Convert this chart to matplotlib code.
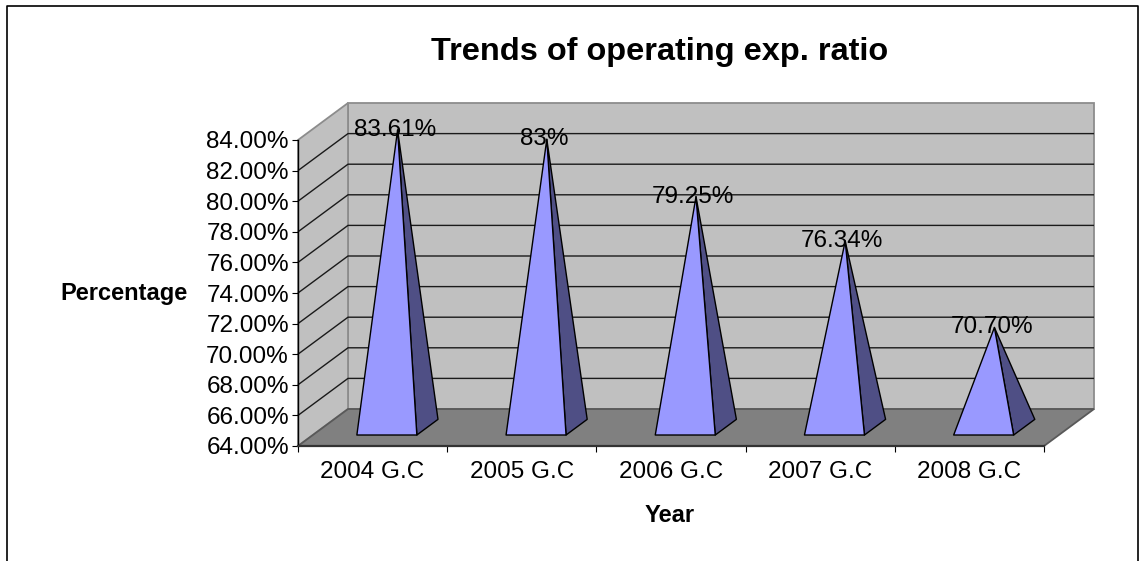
import matplotlib
matplotlib.use('Agg')
import matplotlib.pyplot as plt
from matplotlib.patches import Polygon

plt.rcParams['font.family'] = ['Liberation Sans', 'DejaVu Sans']

annees = ['2004 G.C', '2005 G.C', '2006 G.C', '2007 G.C', '2008 G.C']
ratios = [83.61, 83.0, 79.25, 76.34, 70.70]
etiquettes = ['83.61%', '83%', '79.25%', '76.34%', '70.70%']
graduations = [64, 66, 68, 70, 72, 74, 76, 78, 80, 82, 84]

LARGEUR, HAUTEUR = 1139, 561
# decalage de la perspective, en unites de donnees (categorie, pourcent)
PROF_X = 50 / 149.2
PROF_Y = 37 / 15.3
Y_MIN, Y_MAX = 64, 84


def projeter(x, y, prof):
    # point a la profondeur prof (0 = devant, 1 = fond)
    return (x + prof * PROF_X, y + prof * PROF_Y)


fig = plt.figure(figsize=(LARGEUR / 100, HAUTEUR / 100), dpi=100)
ax = fig.add_axes([298 / LARGEUR, 1 - 446 / HAUTEUR, 746 / LARGEUR, 306 / HAUTEUR])
ax.set_xlim(0, len(annees))
ax.set_ylim(Y_MIN, Y_MAX)
ax.patch.set_visible(False)

# cadre exterieur, ouvert en bas
fig.add_artist(plt.Line2D([7 / LARGEUR, 7 / LARGEUR, 1138 / LARGEUR, 1138 / LARGEUR],
                          [0, 1 - 5.5 / HAUTEUR, 1 - 5.5 / HAUTEUR, 0],
                          color='black', lw=1.2, transform=fig.transFigure))

n = len(annees)
# fond et paroi gauche
ax.add_patch(Polygon([projeter(0, Y_MIN, 1), projeter(n, Y_MIN, 1), projeter(n, Y_MAX, 1), projeter(0, Y_MAX, 1)],
                     fc='#C0C0C0', ec='#8C8C8C', lw=1.3, clip_on=False, zorder=1))
ax.add_patch(Polygon([projeter(0, Y_MIN, 0), projeter(0, Y_MIN, 1), projeter(0, Y_MAX, 1), projeter(0, Y_MAX, 0)],
                     fc='#C0C0C0', ec='#8C8C8C', lw=1.3, clip_on=False, zorder=1))

# lignes de grille sur les deux parois
for g in graduations[1:-1]:
    x0, y0 = projeter(0, g, 0)
    x1, y1 = projeter(0, g, 1)
    x2, y2 = projeter(n, g, 1)
    ax.plot([x0, x1, x2], [y0, y1, y1], color='#1A1A1A', lw=1.0, clip_on=False, zorder=2,
            solid_capstyle='butt')

# sol
ax.add_patch(Polygon([projeter(0, Y_MIN, 0), projeter(n, Y_MIN, 0), projeter(n, Y_MIN, 1), projeter(0, Y_MIN, 1)],
                     fc='#808080', ec='#595959', lw=1.3, clip_on=False, zorder=3))

# pyramides
for i, (valeur, texte) in enumerate(zip(ratios, etiquettes)):
    g_x, d_x = i + 0.295, i + 0.697
    avant_g = projeter(g_x, Y_MIN, 0.297)
    avant_d = projeter(d_x, Y_MIN, 0.297)
    arriere_d = projeter(d_x, Y_MIN, 0.72)
    sommet = (i + 0.5 + 0.5 * PROF_X, valeur + 16 / 37 * PROF_Y)
    ax.add_patch(Polygon([avant_d, arriere_d, sommet], fc='#4F4F85', ec='black', lw=1.0,
                         clip_on=False, zorder=4, joinstyle='round'))
    ax.add_patch(Polygon([avant_g, avant_d, sommet], fc='#9999FF', ec='black', lw=1.0,
                         clip_on=False, zorder=5, joinstyle='round'))
    ax.annotate(texte, sommet, xytext=(-2, 0), textcoords='offset points', ha='center', va='center',
                fontsize=17.5, color='black', annotation_clip=False, zorder=6)

# axes
for cote in ['top', 'right']:
    ax.spines[cote].set_visible(False)
ax.spines['left'].set_linewidth(1.0)
ax.spines['left'].set_zorder(7)
ax.spines['bottom'].set_linewidth(1.6)
ax.spines['bottom'].set_color('#333333')
ax.spines['bottom'].set_zorder(7)
ax.set_yticks(graduations)
ax.set_yticklabels(['%.2f%%' % g for g in graduations], fontsize=17.5, va='center_baseline')
ax.set_xticks(range(n + 1))
ax.set_xticklabels([])
ax.set_xticks([i + 0.5 for i in range(n)], minor=True)
ax.set_xticklabels(annees, minor=True, fontsize=17.5)
ax.tick_params(axis='y', length=4.5, width=0.8, pad=2)
ax.tick_params(axis='x', which='major', length=4, width=0.8)
ax.tick_params(axis='x', which='minor', length=0, pad=11)

fig.text(659.5 / LARGEUR, 1 - 52 / HAUTEUR, 'Trends of operating exp. ratio', ha='center', va='center',
         fontsize=23.4, fontweight='bold')
fig.text(124.5 / LARGEUR, 1 - 293 / HAUTEUR, 'Percentage', ha='center', va='center', fontsize=17, fontweight='bold')
fig.text(669.5 / LARGEUR, 1 - 515 / HAUTEUR, 'Year', ha='center', va='center', fontsize=17, fontweight='bold')

fig.savefig('out.png', dpi=100)
